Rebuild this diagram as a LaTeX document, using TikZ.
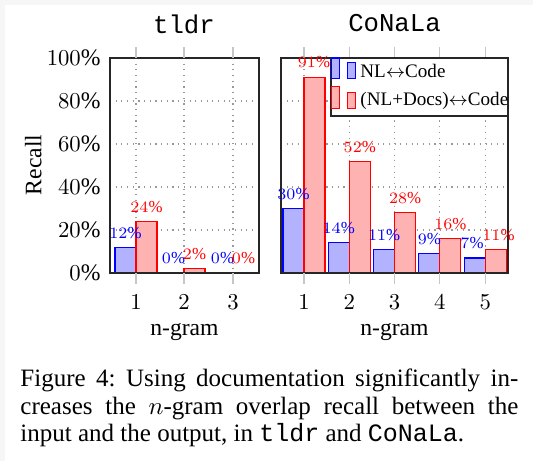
\documentclass[tikz,border=0pt]{standalone}
\usepackage{fontspec}
\setmainfont{Liberation Serif}
\setmonofont[Scale=1.0]{Liberation Mono}
\usepackage{tikz}
\newcommand\valfont{\fontsize{7.4}{8}\selectfont}
\newcommand\tickfont{\fontsize{10.4}{12}\selectfont}
\newcommand\legfont{\fontsize{8.4}{10}\selectfont}
\newcommand\capfont{\fontsize{11}{12.1}\selectfont}
\frenchspacing
\tikzset{
    nlbar/.style={draw=blue,fill=blue!30,line width=0.5pt},
    docbar/.style={draw=red,fill=red!30,line width=0.5pt},
    nlval/.style={text=blue,font=\valfont,anchor=base,inner sep=0pt},
    docval/.style={text=red,font=\valfont,anchor=base,inner sep=0pt},
    gridline/.style={gray!80,dotted,line width=0.5pt},
    tickmark/.style={gray!45,line width=0.5pt},
    plotframe/.style={draw=black!85,line width=0.6pt},
    yticklabel/.style={font=\tickfont,anchor=east,inner sep=0pt},
    xticklabel/.style={font=\tickfont,anchor=base,inner sep=0pt},
    axislabel/.style={font=\tickfont,anchor=base,inner sep=0pt},
    plottitle/.style={font=\fontsize{11.3}{13}\selectfont\ttfamily,anchor=base,inner sep=0pt},
    legtext/.style={font=\legfont,anchor=base west,inner sep=0pt},
    }

\begin{document}
\begin{tikzpicture}[x=0.44pt,y=-0.44pt]
	\useasboundingbox (0,0) rectangle (533,461);
	\fill[gray!7] (0,0) rectangle (533,461);
	\fill[white] (5,5) rectangle (533,461);

		\node[plottitle] (tldr) at (184,34) {tldr};
		\node[plottitle] (conala) at (394.5,32) {CoNaLa};

	\draw[gridline] (110,101) -- (259,101);
	\draw[gridline] (110,144) -- (259,144);
	\draw[gridline] (110,187) -- (259,187);
	\draw[gridline] (110,230) -- (259,230);
	\draw[gridline] (136,58) -- (136,273);
	\draw[gridline] (184,58) -- (184,273);
	\draw[gridline] (233,58) -- (233,273);

	\draw[gridline] (281,101) -- (508,101);
	\draw[gridline] (281,144) -- (508,144);
	\draw[gridline] (281,187) -- (508,187);
	\draw[gridline] (281,230) -- (508,230);
	\draw[gridline] (304,58) -- (304,273);
	\draw[gridline] (349.3,58) -- (349.3,273);
	\draw[gridline] (394.6,58) -- (394.6,273);
	\draw[gridline] (439.9,58) -- (439.9,273);
	\draw[gridline] (485.2,58) -- (485.2,273);

	\draw[nlbar] (115,273) rectangle (136,247.2);
	\draw[docbar] (136,273) rectangle (157,221.4);
	\draw[nlbar] (163,273) rectangle (184,273);
	\draw[docbar] (184,273) rectangle (205,268.7);
	\draw[nlbar] (212,273) rectangle (233,273);
	\draw[docbar] (233,273) rectangle (254,273);

	\draw[nlbar] (283,273) rectangle (304,208.5);
	\draw[docbar] (304,273) rectangle (325,77.35);
	\draw[nlbar] (328.3,273) rectangle (349.3,242.9);
	\draw[docbar] (349.3,273) rectangle (370.3,161.2);
	\draw[nlbar] (373.6,273) rectangle (394.6,249.35);
	\draw[docbar] (394.6,273) rectangle (415.6,212.8);
	\draw[nlbar] (418.9,273) rectangle (439.9,253.65);
	\draw[docbar] (439.9,273) rectangle (460.9,238.6);
	\draw[nlbar] (464.2,273) rectangle (485.2,257.95);
	\draw[docbar] (485.2,273) rectangle (506.2,249.35);

	\draw[plotframe] (110,58) rectangle (259,273);
	\draw[plotframe] (281,58) rectangle (508,273);

	\draw[tickmark] (136,47) -- (136,58);
	\draw[tickmark] (184,47) -- (184,58);
	\draw[tickmark] (233,47) -- (233,58);
	\draw[tickmark] (136,273) -- (136,284);
	\draw[tickmark] (184,273) -- (184,284);
	\draw[tickmark] (233,273) -- (233,284);
	\draw[tickmark] (304,47) -- (304,58);
	\draw[tickmark] (349.3,47) -- (349.3,58);
	\draw[tickmark] (394.6,47) -- (394.6,58);
	\draw[tickmark] (439.9,47) -- (439.9,58);
	\draw[tickmark] (485.2,47) -- (485.2,58);
	\draw[tickmark] (304,273) -- (304,284);
	\draw[tickmark] (349.3,273) -- (349.3,284);
	\draw[tickmark] (394.6,273) -- (394.6,284);
	\draw[tickmark] (439.9,273) -- (439.9,284);
	\draw[tickmark] (485.2,273) -- (485.2,284);

		\node[yticklabel] (y0) at (101,273) {$0\%$};
		\node[yticklabel] (y20) at (101,230) {$20\%$};
		\node[yticklabel] (y40) at (101,187) {$40\%$};
		\node[yticklabel] (y60) at (101,144) {$60\%$};
		\node[yticklabel] (y80) at (101,101) {$80\%$};
		\node[yticklabel] (y100) at (101,58) {$100\%$};
		\node[axislabel,rotate=90] (recall) at (41.5,165) {Recall};

		\node[xticklabel] (ta1) at (136,310) {$1$};
		\node[xticklabel] (ta2) at (184,310) {$2$};
		\node[xticklabel] (ta3) at (233,310) {$3$};
		\node[xticklabel] (tb1) at (304,310) {$1$};
		\node[xticklabel] (tb2) at (349.3,310) {$2$};
		\node[xticklabel] (tb3) at (394.6,310) {$3$};
		\node[xticklabel] (tb4) at (439.9,310) {$4$};
		\node[xticklabel] (tb5) at (485.2,310) {$5$};
		\node[axislabel] (ngramA) at (184.5,336) {n-gram};
		\node[axislabel] (ngramB) at (394.5,336) {n-gram};

		\node[nlval] (va1) at (125.5,238.2) {$12\%$};
		\node[docval] (wa1) at (146.5,212.4) {$24\%$};
		\node[nlval] (va2) at (173.5,264) {$0\%$};
		\node[docval] (wa2) at (194.5,259.7) {$2\%$};
		\node[nlval] (va3) at (222.5,264) {$0\%$};
		\node[docval] (wa3) at (243.5,264) {$0\%$};

		\node[nlval] (vb1) at (293.5,199.5) {$30\%$};
		\node[docval] (wb1) at (314,67.5) {$91\%$};
		\node[nlval] (vb2) at (338.8,233.9) {$14\%$};
		\node[docval] (wb2) at (359.8,152.2) {$52\%$};
		\node[nlval] (vb3) at (384.1,240.35) {$11\%$};
		\node[docval] (wb3) at (405.1,203.8) {$28\%$};
		\node[nlval] (vb4) at (429.4,244.65) {$9\%$};
		\node[docval] (wb4) at (450.4,229.6) {$16\%$};
		\node[nlval] (vb5) at (472,248.95) {$7\%$};
		\node[docval] (wb5) at (498.5,240.35) {$11\%$};

	\draw[plotframe,fill=white] (331,58) rectangle (508,116);
	\draw[nlbar] (331.7,78.3) rectangle (339.3,58);
	\draw[nlbar] (347.3,78.3) rectangle (355.7,62.7);
	\draw[docbar] (331.7,108.3) rectangle (339.3,86.7);
	\draw[docbar] (347.3,108.3) rectangle (355.7,92.3);
		\node[legtext] (leg1) at (360,78) {NL$\leftrightarrow$Code};
		\node[legtext] (leg2) at (360,105.5) {(NL+Docs)$\leftrightarrow$Code};

		\node[anchor=north west,inner sep=0pt,text width=219.1pt,align=justify,font=\capfont] (cap) at (20,368.5)
		{Figure 4: Using documentation significantly in-\linebreak creases the $n$-gram overlap recall between the\linebreak input and the output, in \texttt{tldr} and \texttt{CoNaLa}.};
\end{tikzpicture}
\end{document}
